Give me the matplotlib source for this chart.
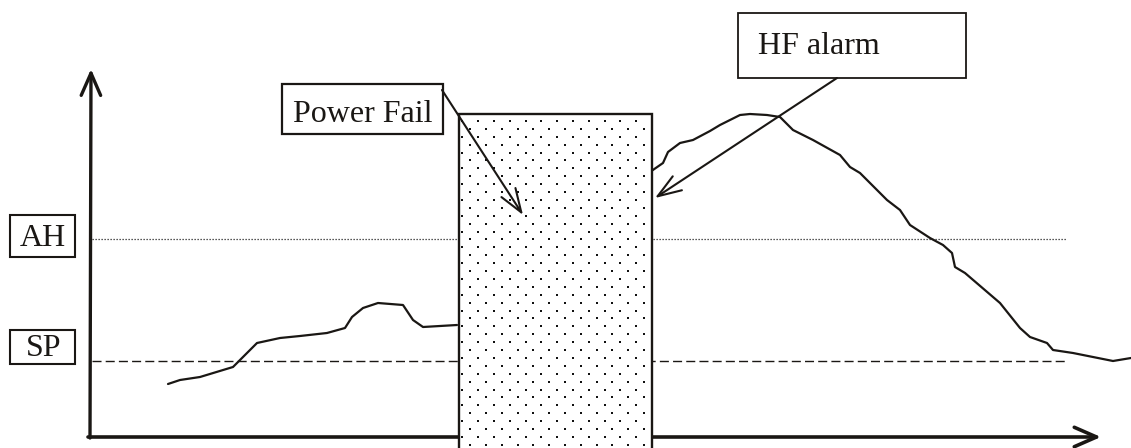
import numpy as np
import matplotlib
matplotlib.use("Agg")
import matplotlib.pyplot as plt
from matplotlib.patches import Rectangle

# process value before the power fail (time, value)
t_before = [78, 90, 110, 143, 157, 167, 190, 210, 237, 255, 262, 273, 288, 313, 323, 333, 367]
v_before = [53, 57, 60, 70, 84, 94, 99, 101, 104, 109, 120, 129, 134, 132, 117, 110, 112]

# process value after the power comes back
t_after = [560, 573, 578, 590, 603, 620, 630, 650, 660, 677, 690, 703, 723, 750, 760, 770,
           787, 797, 810, 820, 840, 853, 862, 865, 875, 910, 930, 940, 957, 963, 983, 1023, 1041]
v_after = [265, 274, 285, 294, 297, 306, 312, 322, 323, 322, 320, 307, 297, 282, 270, 264,
           247, 237, 227, 212, 199, 192, 184, 170, 164, 134, 109, 100, 94, 87, 84, 76, 79]

sp_level = 76
ah_level = 198
fail_start = 369
fail_end = 562

plt.rcParams['font.family'] = ['Liberation Serif', 'DejaVu Serif']
fs = 23

fig = plt.figure(figsize=(11.31, 4.48), dpi=100)
ax = fig.add_axes([0, 0, 1, 1])
ax.set_xlim(-90, 1041)
ax.set_ylim(-11, 437)
ax.axis('off')

# axes with open arrow heads
ax.annotate('', xy=(1011, 0), xytext=(-2, 0),
            arrowprops=dict(arrowstyle='->,head_length=1.6,head_width=0.7', lw=2.6,
                            color='#1a1714', mutation_scale=10, shrinkA=0, shrinkB=0))
ax.annotate('', xy=(1, 368), xytext=(0, -1),
            arrowprops=dict(arrowstyle='->,head_length=1.6,head_width=0.7', lw=2.4,
                            color='#1a1714', mutation_scale=10, shrinkA=0, shrinkB=0))

# set point and alarm high lines
ax.plot([2, 977], [ah_level, ah_level], color='#222222', lw=0.9, ls=(0, (1, 1.4)))
ax.plot([2, 977], [sp_level, sp_level], color='#1a1714', lw=1.0, ls=(0, (6.5, 3)))

# curve
ax.plot(t_before, v_before, color='#1a1714', lw=1.6, solid_capstyle='round')
ax.plot(t_after, v_after, color='#1a1714', lw=1.6, solid_capstyle='round', clip_on=False)

# power fail block with dot pattern
ax.add_patch(Rectangle((fail_start, -20), fail_end - fail_start, 343, facecolor='white',
                       edgecolor='#1a1714', lw=1.7, zorder=3, clip_on=False))
rows = np.arange(316, -12, -7.9)
for i, y in enumerate(rows):
    xs = np.arange(372.3 + (i % 2) * 7.9, fail_end - 3, 15.8)
    small = xs < 463
    ax.scatter(xs[small], np.full(small.sum(), y), s=2.6, marker='s', color='#111111',
               linewidths=0, zorder=4)
    ax.scatter(xs[~small], np.full((~small).sum(), y), s=4.2, marker='s', color='#111111',
               linewidths=0, zorder=4)

# labels in boxes
ax.add_patch(Rectangle((-80, 180), 65, 42, facecolor='white', edgecolor='#1a1714', lw=1.5))
ax.text(-47.5, 191, 'AH', fontsize=fs, ha='center', va='baseline', color='#1a1714')
ax.add_patch(Rectangle((-80, 73), 65, 34, facecolor='white', edgecolor='#1a1714', lw=1.5))
ax.text(-46, 81, 'SP', fontsize=fs, ha='center', va='baseline', color='#1a1714')

ax.add_patch(Rectangle((192, 303), 161, 50, facecolor='white', edgecolor='#1a1714', lw=1.6))
ax.text(272.5, 315, 'Power Fail', fontsize=fs, ha='center', va='baseline', color='#1a1714')

ax.add_patch(Rectangle((648, 359), 228, 65, facecolor='white', edgecolor='#1a1714', lw=1.3))
ax.text(668, 383, 'HF alarm', fontsize=fs, ha='left', va='baseline', color='#1a1714')

# pointer arrows
ax.annotate('', xy=(433, 222), xytext=(352, 347),
            arrowprops=dict(arrowstyle='->,head_length=1.7,head_width=0.6', lw=1.5,
                            color='#1a1714', mutation_scale=10, shrinkA=0, shrinkB=0),
            zorder=5)
ax.annotate('', xy=(565, 239), xytext=(747, 359),
            arrowprops=dict(arrowstyle='->,head_length=1.7,head_width=0.6', lw=1.5,
                            color='#1a1714', mutation_scale=10, shrinkA=0, shrinkB=0),
            zorder=5)

fig.savefig('out.png', dpi=100)
